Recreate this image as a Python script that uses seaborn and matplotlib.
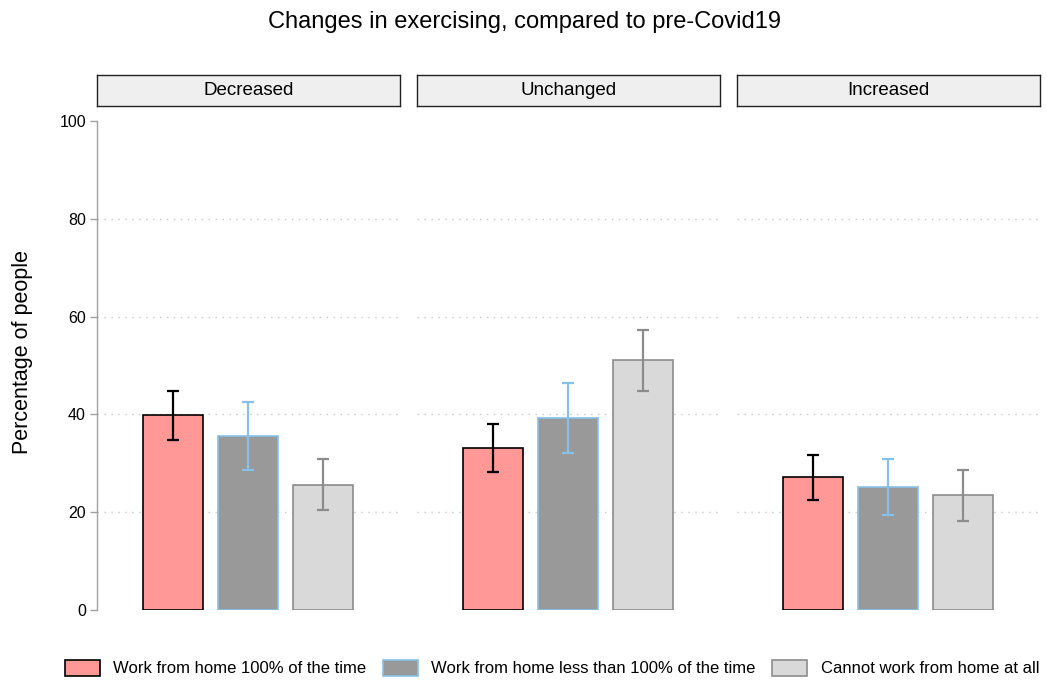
import numpy as np
import pandas as pd
import seaborn as sns
import matplotlib
matplotlib.use("Agg")
import matplotlib.pyplot as plt
from matplotlib.patches import Patch

# Data: percentage of people by change in exercising and work-from-home status
changes = ["Decreased", "Unchanged", "Increased"]
groups = ["Work from home 100% of the time",
          "Work from home less than 100% of the time",
          "Cannot work from home at all"]
pct_wfh_full = [39.9, 33.1, 27.2]
pct_wfh_part = [35.6, 39.3, 25.2]
pct_no_wfh = [25.6, 51.1, 23.5]
lo_wfh_full = [34.8, 28.2, 22.5]
hi_wfh_full = [44.8, 38.0, 31.7]
lo_wfh_part = [28.6, 32.1, 19.4]
hi_wfh_part = [42.5, 46.4, 30.9]
lo_no_wfh = [20.4, 44.8, 18.2]
hi_no_wfh = [30.9, 57.3, 28.6]
y_ticks = [0, 20, 40, 60, 80, 100]

fills = ["#FF9896", "#999999", "#D9D9D9"]
edges = ["#000000", "#85C1E9", "#8C8C8C"]

sns.set_theme(style="white")
plt.rcParams["font.family"] = ["Liberation Sans", "DejaVu Sans"]
plt.rcParams["text.color"] = "black"
plt.rcParams["axes.labelcolor"] = "black"

rows = []
for i, ch in enumerate(changes):
    vals = [pct_wfh_full[i], pct_wfh_part[i], pct_no_wfh[i]]
    los = [lo_wfh_full[i], lo_wfh_part[i], lo_no_wfh[i]]
    his = [hi_wfh_full[i], hi_wfh_part[i], hi_no_wfh[i]]
    for g, v, lo, hi in zip(groups, vals, los, his):
        rows.append({"change": ch, "group": g, "pct": v, "lo": lo, "hi": hi})
df = pd.DataFrame(rows)

W, H = 1047, 683
fig = plt.figure(figsize=(W / 100, H / 100), dpi=100)

panel_left = [97, 417, 737]
panel_w = 303
y_top, y_bot = 121, 610

def fx(px):
    return px / W

def fy(py):
    return 1 - py / H

for k, ch in enumerate(changes):
    ax = fig.add_axes([fx(panel_left[k]), fy(y_bot), fx(panel_w), (y_bot - y_top) / H])
    sub = df[df["change"] == ch]
    sns.barplot(data=sub, x="group", y="pct", hue="group", order=groups,
                hue_order=groups, palette=fills, saturation=1, legend=False,
                errorbar=None, width=0.8, ax=ax, zorder=3)
    for bar, ec in zip(ax.patches, edges):
        bar.set_edgecolor(ec)
        bar.set_linewidth(1.2)
    for j, g in enumerate(groups):
        r = sub[sub["group"] == g].iloc[0]
        ax.errorbar(j, r["pct"], yerr=[[r["pct"] - r["lo"]], [r["hi"] - r["pct"]]],
                    fmt="none", ecolor=edges[j], elinewidth=1.6, capsize=4,
                    capthick=1.6, zorder=4, clip_on=False)
    ax.set_xlim(-1.01, 3.03)
    ax.set_ylim(0, 100)
    ax.set_xlabel("")
    ax.set_xticks([])
    for v in [20, 40, 60, 80]:
        ax.axhline(v, color="#C8C8C8", linestyle=(0, (1, 4)), linewidth=1.0, zorder=1)
    for s in ["top", "right", "bottom"]:
        ax.spines[s].set_visible(False)
    if k == 0:
        ax.spines["left"].set_color("#A0A0A0")
        ax.spines["left"].set_linewidth(1.0)
        ax.set_yticks(y_ticks)
        ax.tick_params(axis="y", left=True, length=5, width=1.0, color="#A0A0A0",
                       labelsize=11.5, pad=3, labelcolor="black")
        ax.set_ylabel("Percentage of people", fontsize=15.5)
        ax.yaxis.set_label_coords(-0.212, 0.528)
    else:
        ax.spines["left"].set_visible(False)
        ax.set_yticks([])
        ax.set_ylabel("")

    # facet strip
    sax = fig.add_axes([fx(panel_left[k]), fy(106), fx(panel_w), 31 / H])
    sax.set_facecolor("#EFEFEF")
    sax.set_xticks([])
    sax.set_yticks([])
    for s in sax.spines.values():
        s.set_visible(True)
        s.set_color("#222222")
        s.set_linewidth(1.0)
    sax.text(0.5, 0.5, ch, ha="center", va="center", fontsize=13.5, transform=sax.transAxes)

fig.text(fx(525), fy(22), "Changes in exercising, compared to pre-Covid19",
         ha="center", va="center", fontsize=17)

handles = [Patch(facecolor=f, edgecolor=e, linewidth=1.2) for f, e in zip(fills, edges)]
fig.legend(handles, groups, loc="center", bbox_to_anchor=(fx(552), fy(668)),
           ncol=3, frameon=False, fontsize=12, handlelength=2.1, handleheight=1.15,
           columnspacing=1.0, handletextpad=0.8, borderaxespad=0)

fig.savefig("out.png", dpi=100)
